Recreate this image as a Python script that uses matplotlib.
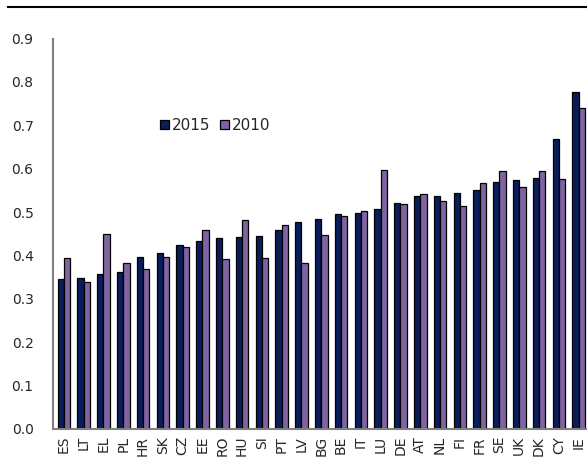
import numpy as np
import matplotlib
matplotlib.use("Agg")
import matplotlib.pyplot as plt
from matplotlib.lines import Line2D

plt.rcParams["font.family"] = ["DejaVu Sans"]

# country codes, sorted by 2015 value
countries = ["ES", "LT", "EL", "PL", "HR", "SK", "CZ", "EE", "RO", "HU", "SI", "PT", "LV", "BG",
             "BE", "IT", "LU", "DE", "AT", "NL", "FI", "FR", "SE", "UK", "DK", "CY", "IE"]
v2015 = [0.345, 0.349, 0.357, 0.362, 0.397, 0.405, 0.425, 0.433, 0.441, 0.443, 0.445, 0.459, 0.476, 0.485,
         0.495, 0.498, 0.508, 0.520, 0.538, 0.538, 0.544, 0.551, 0.569, 0.574, 0.579, 0.669, 0.776]
v2010 = [0.394, 0.339, 0.449, 0.382, 0.369, 0.396, 0.420, 0.459, 0.392, 0.481, 0.394, 0.470, 0.383, 0.446,
         0.491, 0.503, 0.597, 0.518, 0.541, 0.525, 0.515, 0.566, 0.594, 0.558, 0.594, 0.576, 0.739]
yticks = [0.0, 0.1, 0.2, 0.3, 0.4, 0.5, 0.6, 0.7, 0.8, 0.9]

navy = "#0a1d5a"
purple = "#8064a2"
txt = "#262626"

fig = plt.figure(figsize=(5.87, 4.71), dpi=100)
ax = fig.add_axes([0.0903, 0.0892, 0.914, 0.829])

x = np.arange(len(countries))
w = 0.32
ax.bar(x - w / 2, v2015, width=w, color=navy, edgecolor="black", linewidth=0.9, label="2015")
ax.bar(x + w / 2, v2010, width=w, color=purple, edgecolor="black", linewidth=0.9, label="2010")

ax.set_xlim(-0.55, len(countries) - 0.45)
ax.set_ylim(0, 0.9)
ax.set_yticks(yticks)
ax.set_yticklabels([f"{t:.1f}" for t in yticks])
ax.set_xticks(x)
ax.set_xticklabels(countries, rotation=90)
ax.tick_params(axis="both", length=0, labelsize=10, colors=txt)
ax.tick_params(axis="y", pad=14)
ax.tick_params(axis="x", pad=5)

for s in ["top", "right"]:
    ax.spines[s].set_visible(False)
for s in ["left", "bottom"]:
    ax.spines[s].set_color("#808080")
    ax.spines[s].set_linewidth(1.5)

ax.legend(loc="center left", bbox_to_anchor=(0.249, 0.734), bbox_transform=fig.transFigure,
          ncol=2, frameon=False, fontsize=11, handlelength=0.6, handleheight=0.6,
          handletextpad=0.2, columnspacing=0.6, labelcolor=txt)

# rule along the top of the panel
fig.add_artist(Line2D([0.014, 1.0], [0.985, 0.985], transform=fig.transFigure,
                      color="black", linewidth=1.5))

fig.savefig("out.png", dpi=100)
